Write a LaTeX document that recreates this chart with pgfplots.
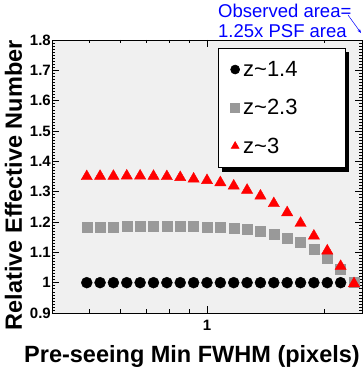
\documentclass[border=0pt]{standalone}
\usepackage{fontspec}
\setmainfont{Liberation Sans}
\usepackage{pgfplots}
\pgfplotsset{compat=1.18}
\usetikzlibrary{shadows,arrows.meta}
\definecolor{bgGray}{HTML}{F0F0F0}
\definecolor{sqGray}{HTML}{999999}

% x values: log-spaced FWHM grid (21 points)
\pgfplotstableread{
x       zA    zB     zC
0.4913  1.0   1.183  1.350
0.5315  1.0   1.184  1.351
0.5751  1.0   1.184  1.351
0.6224  1.0   1.185  1.352
0.6735  1.0   1.185  1.352
0.7289  1.0   1.185  1.351
0.7888  1.0   1.185  1.350
0.8536  1.0   1.185  1.347
0.9240  1.0   1.185  1.342
1.0000  1.0   1.184  1.337
1.0822  1.0   1.183  1.330
1.1711  1.0   1.180  1.319
1.2674  1.0   1.176  1.305
1.3716  1.0   1.170  1.286
1.4844  1.0   1.160  1.261
1.6064  1.0   1.148  1.231
1.7385  1.0   1.132  1.196
1.8814  1.0   1.110  1.154
2.0361  1.0   1.080  1.105
2.2034  1.0   1.044  1.054
2.3846  nan   1.003  0.997
}\effnum

\begin{document}
\begin{tikzpicture}
\useasboundingbox (-52pt,-58pt) rectangle (311pt,313pt);
\begin{axis}[
  at={(0,0)}, anchor=south west,
  scale only axis,
  width=310pt, height=273pt,
  xmode=log,
  xmin=0.4, xmax=2.5,
  ymin=0.9, ymax=1.8,
  xtick={1}, xticklabels={1},
  minor xtick={0.5,0.6,0.7,0.8,0.9,2},
  ytick={0.9,1.0,1.1,1.2,1.3,1.4,1.5,1.6,1.7,1.8},
  minor y tick num=9,
  tick align=inside,
  major tick length=7pt,
  minor tick length=3.5pt,
  every tick/.style={black, line width=0.5pt},
  axis line style={black, line width=0.7pt},
  axis background/.style={fill=bgGray},
  /pgf/number format/assume math mode=true,
  yticklabel style={/pgf/number format/fixed, /pgf/number format/precision=1,
    font=\fontsize{15}{15}\selectfont\bfseries, inner sep=1pt},
  xticklabel style={font=\fontsize{15}{15}\selectfont\bfseries, yshift=-4pt},
  xlabel={Pre-seeing Min FWHM (pixels)},
  ylabel={Relative Effective Number},
  xlabel style={at={(axis description cs:0.9935,-0.183)}, anchor=base east,
    font=\fontsize{23.5}{23.5}\selectfont\bfseries, inner sep=0pt},
  ylabel style={at={(axis description cs:-0.097,1)}, anchor=base east,
    font=\fontsize{23.5}{23.5}\selectfont\bfseries, inner sep=0pt},
  clip=false,
  legend cell align=left,
  legend image code/.code={
    \path[draw=none] (0pt,0pt) (16pt,0pt);
    \path[#1, draw=none, mark size=4.5pt, only marks] plot coordinates {(8pt,0pt)};},
  legend style={at={(rel axis cs:0.535,0.971)}, anchor=north west,
    draw=black, line width=0.6pt, fill=white,
    drop shadow={shadow xshift=4pt, shadow yshift=-4pt, fill=black, opacity=1},
    font=\fontsize{22}{22}\selectfont,
    nodes={inner sep=0pt},
    inner xsep=9pt, inner ysep=13pt, row sep=21.5pt,
    /tikz/every even column/.append style={column sep=9pt}},
]
\addplot[only marks, mark=*, mark size=5.5pt, black]
  table[x=x, y=zA] {\effnum};
\addlegendentry{\makebox[93pt][l]{z\textasciitilde 1.4}}
\addplot[only marks, mark=square*, mark size=5pt, sqGray]
  table[x=x, y=zB] {\effnum};
\addlegendentry{\makebox[93pt][l]{z\textasciitilde 2.3}}
\addplot[only marks, mark=triangle*, mark size=6.5pt, red]
  table[x=x, y=zC] {\effnum};
\addlegendentry{\makebox[93pt][l]{z\textasciitilde 3}}
\end{axis}
\node[anchor=base west, text=blue, font=\fontsize{18.5}{18.5}\selectfont, inner sep=0pt]
  at (166pt,295pt) {Observed area=};
\node[anchor=base west, text=blue, font=\fontsize{18.5}{18.5}\selectfont, inner sep=0pt]
  at (166pt,275pt) {1.25x PSF area};
\draw[blue, line width=0.5pt, -{Stealth[length=4pt]}] (296pt,298pt) -- (309pt,280pt);
\end{tikzpicture}
\end{document}
